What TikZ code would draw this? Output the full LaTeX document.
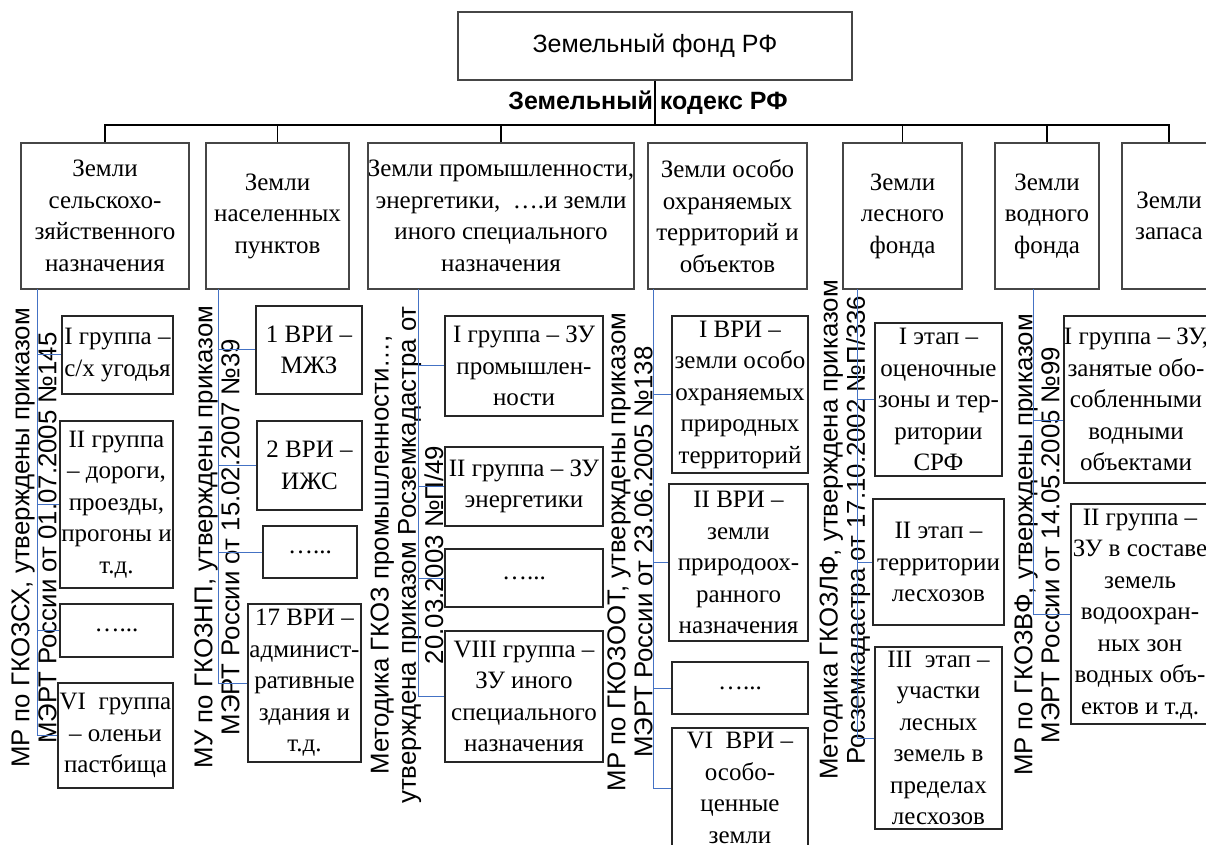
\documentclass[tikz,border=0pt]{standalone}
\usepackage{fontspec}
\setmainfont{Liberation Serif}
\setsansfont{Liberation Sans}
\definecolor{trunkColor}{RGB}{68,114,196}
\definecolor{frameColor}{RGB}{70,70,70}
\tikzstyle{fundStyle} = [draw=frameColor, line width=.8pt, fill=white, inner sep=0pt, font=\sffamily\fontsize{12.5}{15}\selectfont]
\tikzstyle{catStyle} = [draw=frameColor, line width=.8pt, fill=white, inner sep=0pt, align=center, font=\fontsize{12.5}{15.75}\selectfont]
\tikzstyle{subStyle} = [draw=black!85, line width=.6pt, fill=white, inner sep=0pt, align=center, font=\fontsize{12.5}{15.75}\selectfont]
\tikzstyle{docText} = [rotate=90, align=center, inner sep=0pt, font=\sffamily\fontsize{12.9}{13.6}\selectfont]
\tikzstyle{busLine} = [black, line width=.6pt]
\tikzstyle{trunkLine} = [trunkColor, line width=.5pt]
% box by its corners (in px of the layout), name, style, text
\newcommand{\landBox}[7]{\node [#1, minimum width={(#5-#3)*0.5pt}, minimum height={(#6-#4)*0.5pt}] (#2) at ({(#3+#5)/2},{(#4+#6)/2}) {#7};}
\newcommand{\branch}[2]{\draw [trunkLine] (#1 |- #2.west) -- (#2.west);}

\begin{document}
\begin{tikzpicture}[x=0.5pt, y=-0.5pt]
  \useasboundingbox (0,0) rectangle (1206,845);
  \clip (0,0) rectangle (1206,845);

  % documents, rotated
  \node [docText] (doc1) at (34,538) {МР по ГКОЗСХ, утверждены приказом\\МЭРТ России от 01.07.2005 №145};
  \node [docText] (doc2) at (217,537) {МУ по ГКОЗНП, утверждены приказом\\МЭРТ России от 15.02.2007 №39};
  \node [docText] (doc3) at (407,555) {Методика ГКОЗ промышленности…,\\утверждена приказом Росземкадастра от\\20.03.2003 №П/49};
  \node [docText] (doc4) at (630,552) {МР по ГКОЗООТ, утверждены приказом\\МЭРТ России от 23.06.2005 №138};
  \node [docText] (doc5) at (845,530) {Методика ГКОЗЛФ, утверждена приказом\\Росземкадастра от 17.10.2002 №П/336};
  \node [docText] (doc6) at (1037,545) {МР по ГКОЗВФ, утверждены приказом\\МЭРТ России от 14.05.2005 №99};

  % top
  \landBox{fundStyle}{fund}{458}{12}{852}{80}{Земельный фонд РФ}
  \node [font=\sffamily\bfseries\fontsize{12.5}{15}\selectfont] (code) at (648,103) {Земельный кодекс РФ};
  \coordinate (bus) at (655,125);

  % categories
  \landBox{catStyle}{cat1}{21}{143}{189}{289}{Земли\\сельскохо-\\зяйственного\\назначения}
  \landBox{catStyle}{cat2}{206}{143}{349}{289}{Земли\\населенных\\пунктов}
  \landBox{catStyle}{cat3}{372}{143}{630}{289}{Земли промышленности,\\энергетики, \ ….и земли\\иного специального\\назначения}
  \landBox{catStyle}{cat4}{648}{143}{807}{289}{Земли особо\\охраняемых\\территорий и\\объектов}
  \landBox{catStyle}{cat5}{843}{143}{962}{289}{Земли\\лесного\\фонда}
  \landBox{catStyle}{cat6}{995}{143}{1099}{289}{Земли\\водного\\фонда}
  \landBox{catStyle}{cat7}{1122}{143}{1216}{289}{Земли\\запаса}

  \draw [busLine] (fund.south) -- (bus);
  \draw [busLine] (cat1.north) -- (cat1.north |- bus) -- (cat7.north |- bus) -- (cat7.north);
  \foreach \cat in {cat2,cat3,cat5,cat6}
    \draw [busLine] (\cat.north) -- (\cat.north |- bus);

  % groups
  \landBox{subStyle}{s11}{62}{316}{173}{394}{I группа –\\с/х угодья}
  \landBox{subStyle}{s12}{60}{421}{173}{588}{II группа\\– дороги,\\проезды,\\прогоны и\\т.д.}
  \landBox{subStyle}{s13}{60}{604}{173}{657}{…...}
  \landBox{subStyle}{s14}{58}{683}{173}{788}{VI \ группа\\– оленьи\\пастбища}

  \landBox{subStyle}{s21}{256}{306}{362}{394}{1 ВРИ –\\МЖЗ}
  \landBox{subStyle}{s22}{257}{421}{362}{510}{2 ВРИ –\\ИЖС}
  \landBox{subStyle}{s23}{263}{526}{357}{578}{…...}
  \landBox{subStyle}{s24}{248}{604}{361}{762}{17 ВРИ –\\админист-\\ративные\\здания и\\т.д.}

  \landBox{subStyle}{s31}{445}{316}{603}{416}{I группа – ЗУ\\промышлен-\\ности}
  \landBox{subStyle}{s32}{445}{447}{603}{526}{II группа – ЗУ\\энергетики}
  \landBox{subStyle}{s33}{445}{549}{603}{607}{…...}
  \landBox{subStyle}{s34}{445}{631}{603}{762}{VIII группа –\\ЗУ иного\\специального\\назначения}

  \landBox{subStyle}{s41}{672}{316}{808}{473}{I ВРИ –\\земли особо\\охраняемых\\природных\\территорий}
  \landBox{subStyle}{s42}{669}{484}{808}{641}{II ВРИ –\\земли\\природоох-\\ранного\\назначения}
  \landBox{subStyle}{s43}{672}{662}{808}{714}{…...}
  \landBox{subStyle}{s44}{672}{728}{808}{848}{VI \ ВРИ –\\особо-\\ценные\\земли}

  \landBox{subStyle}{s51}{875}{323}{1002}{476}{I этап –\\оценочные\\зоны и тер-\\ритории\\СРФ}
  \landBox{subStyle}{s52}{873}{499}{1004}{625}{II этап –\\территории\\лесхозов}
  \landBox{subStyle}{s53}{875}{647}{1002}{829}{III \ этап –\\участки\\лесных\\земель в\\пределах\\лесхозов}

  \landBox{subStyle}{s61}{1065}{316}{1207}{483}{I группа – ЗУ,\\занятые обо-\\собленными\\водными\\объектами}
  \landBox{subStyle}{s62}{1071}{504}{1209}{724}{II группа –\\ЗУ в составе\\земель\\водоохран-\\ных зон\\водных объ-\\ектов и т.д.}

  % blue trunks
  \coordinate (t1) at (37,289);
  \coordinate (t2) at (218,289);
  \coordinate (t3) at (418,289);
  \coordinate (t4) at (653,289);
  \coordinate (t5) at (857,289);
  \coordinate (t6) at (1033,289);
  \draw [trunkLine] (t1) |- (s14.west);
  \draw [trunkLine] (t2) |- (s24.west);
  \draw [trunkLine] (t3) |- (s34.west);
  \draw [trunkLine] (t4) |- (s44.west);
  \draw [trunkLine] (t5) |- (s53.west);
  \draw [trunkLine] (t6) |- (s62.west);
  \foreach \s in {s11,s12,s13} \branch{t1}{\s}
  \foreach \s in {s21,s22,s23} \branch{t2}{\s}
  \foreach \s in {s31,s32,s33} \branch{t3}{\s}
  \foreach \s in {s41,s42,s43} \branch{t4}{\s}
  \foreach \s in {s51,s52} \branch{t5}{\s}
  \draw [trunkLine] (t6 |- 0,421) -- (s61.west |- 0,421);
\end{tikzpicture}
\end{document}
